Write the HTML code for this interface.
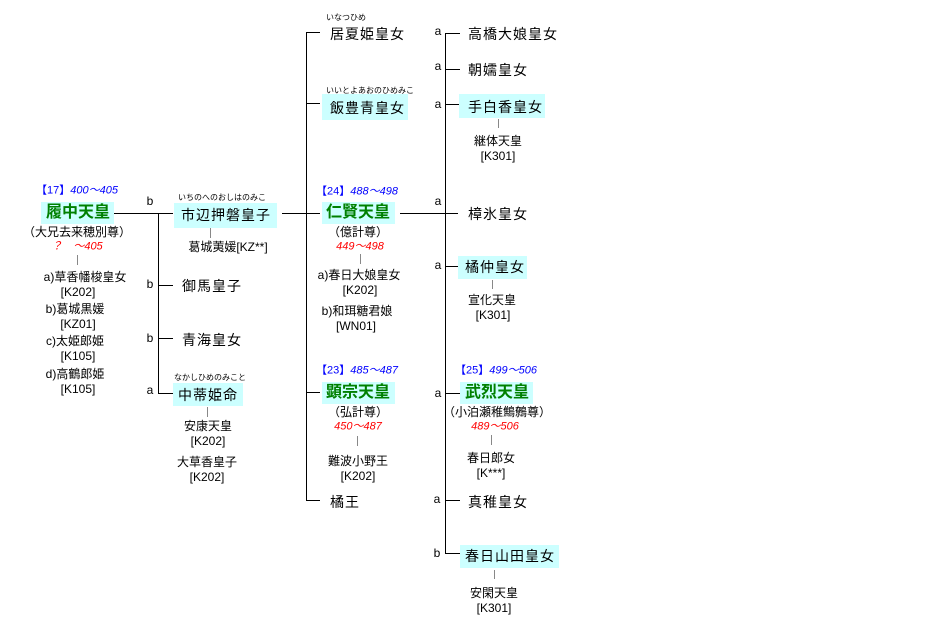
<!DOCTYPE html>
<html><head><meta charset="utf-8"><style>
body{margin:0;width:949px;height:634px;background:#fff;position:relative;overflow:hidden;font-family:"Liberation Sans","Noto Sans CJK JP",sans-serif;color:#000}
.t{position:absolute;white-space:nowrap;transform:translate(-50%,-50%);line-height:1}
.l{position:absolute;white-space:nowrap;transform:translateY(-50%);line-height:1}
.s{font-size:12px}
.m{font-size:14px;letter-spacing:1px}
.r{font-size:8px}
.box{position:absolute;background:#ccffff}
.g{color:#008000;font-weight:bold;font-size:16px}
.b{color:#0000ff;font-size:11px}
.bi{font-style:italic}
.red{color:#ff0000;font-style:italic;font-size:11px}
.h{position:absolute;height:1px;background:#000}
.v{position:absolute;width:1px;background:#000}
.gv{position:absolute;width:1px;background:#888}
</style></head><body>
<div class="h" style="left:114px;top:213px;width:44px"></div>
<div class="v" style="left:158px;top:213px;height:181px"></div>
<div class="h" style="left:158px;top:213px;width:15px"></div>
<div class="h" style="left:158px;top:285px;width:15px"></div>
<div class="h" style="left:158px;top:338px;width:15px"></div>
<div class="h" style="left:158px;top:393px;width:15px"></div>
<div class="h" style="left:282px;top:213px;width:38px"></div>
<div class="v" style="left:306px;top:32px;height:469px"></div>
<div class="h" style="left:306px;top:32px;width:14px"></div>
<div class="h" style="left:306px;top:103px;width:14px"></div>
<div class="h" style="left:306px;top:392px;width:14px"></div>
<div class="h" style="left:306px;top:500px;width:14px"></div>
<div class="h" style="left:400px;top:213px;width:58px"></div>
<div class="v" style="left:445px;top:33px;height:521px"></div>
<div class="h" style="left:445px;top:33px;width:15px"></div>
<div class="h" style="left:445px;top:69px;width:15px"></div>
<div class="h" style="left:445px;top:104px;width:15px"></div>
<div class="h" style="left:445px;top:266px;width:15px"></div>
<div class="h" style="left:445px;top:393px;width:15px"></div>
<div class="h" style="left:445px;top:500px;width:15px"></div>
<div class="h" style="left:445px;top:553px;width:15px"></div>
<div class="gv" style="left:77px;top:255px;height:10px"></div>
<div class="gv" style="left:210px;top:228px;height:10px"></div>
<div class="gv" style="left:207px;top:407px;height:10px"></div>
<div class="gv" style="left:360px;top:254px;height:10px"></div>
<div class="gv" style="left:357px;top:436px;height:10px"></div>
<div class="gv" style="left:498px;top:119px;height:9px"></div>
<div class="gv" style="left:492px;top:280px;height:9px"></div>
<div class="gv" style="left:491px;top:435px;height:10px"></div>
<div class="gv" style="left:494px;top:570px;height:9px"></div>
<div class="box" style="left:41px;top:202px;width:73px;height:22px"></div>
<div class="box" style="left:174px;top:203px;width:103px;height:25px"></div>
<div class="box" style="left:173px;top:383px;width:70px;height:23px"></div>
<div class="box" style="left:322px;top:94px;width:86px;height:26px"></div>
<div class="box" style="left:322px;top:202px;width:73px;height:22px"></div>
<div class="box" style="left:322px;top:382px;width:73px;height:22px"></div>
<div class="box" style="left:459px;top:94px;width:86px;height:24px"></div>
<div class="box" style="left:458px;top:256px;width:69px;height:23px"></div>
<div class="box" style="left:460px;top:382px;width:73px;height:22px"></div>
<div class="box" style="left:460px;top:545px;width:99px;height:23px"></div>
<div class="l b" style="left:36px;top:191px">【17】<span class="bi">400～405</span></div>
<div class="t g" style="left:78px;top:213px">履中天皇</div>
<div class="t s" style="left:77px;top:232px">（大兄去来穂別尊）</div>
<div class="t red" style="left:77px;top:247px">？　～405</div>
<div class="t s" style="left:85px;top:277px">a)草香幡梭皇女</div>
<div class="t s" style="left:78px;top:292px">[K202]</div>
<div class="t s" style="left:75px;top:309px">b)葛城黒媛</div>
<div class="t s" style="left:78px;top:324px">[KZ01]</div>
<div class="t s" style="left:75px;top:341px">c)太姫郎姫</div>
<div class="t s" style="left:78px;top:356px">[K105]</div>
<div class="t s" style="left:75px;top:374px">d)高鶴郎姫</div>
<div class="t s" style="left:78px;top:389px">[K105]</div>
<div class="t s" style="left:150px;top:201px">b</div>
<div class="t s" style="left:150px;top:284px">b</div>
<div class="t s" style="left:150px;top:338px">b</div>
<div class="t s" style="left:150px;top:390px">a</div>
<div class="t r" style="left:222px;top:198px">いちのへのおしはのみこ</div>
<div class="t m" style="left:226px;top:215px">市辺押磐皇子</div>
<div class="t s" style="left:228px;top:247px">葛城荑媛[KZ**]</div>
<div class="l m" style="left:182px;top:286px">御馬皇子</div>
<div class="l m" style="left:182px;top:340px">青海皇女</div>
<div class="t r" style="left:210px;top:378px">なかしひめのみこと</div>
<div class="t m" style="left:208px;top:395px">中蒂姫命</div>
<div class="t s" style="left:208px;top:426px">安康天皇</div>
<div class="t s" style="left:208px;top:441px">[K202]</div>
<div class="t s" style="left:207px;top:462px">大草香皇子</div>
<div class="t s" style="left:207px;top:477px">[K202]</div>
<div class="l r" style="left:326px;top:18px">いなつひめ</div>
<div class="l m" style="left:330px;top:34px">居夏姫皇女</div>
<div class="l r" style="left:326px;top:91px">いいとよあおのひめみこ</div>
<div class="l m" style="left:330px;top:108px">飯豊青皇女</div>
<div class="l b" style="left:316px;top:192px">【24】<span class="bi">488～498</span></div>
<div class="t g" style="left:358px;top:213px">仁賢天皇</div>
<div class="t s" style="left:358px;top:232px">（億計尊）</div>
<div class="t red" style="left:360px;top:247px">449～498</div>
<div class="t s" style="left:359px;top:275px">a)春日大娘皇女</div>
<div class="t s" style="left:360px;top:290px">[K202]</div>
<div class="t s" style="left:357px;top:311px">b)和珥糖君娘</div>
<div class="t s" style="left:356px;top:326px">[WN01]</div>
<div class="l b" style="left:316px;top:371px">【23】<span class="bi">485～487</span></div>
<div class="t g" style="left:358px;top:393px">顕宗天皇</div>
<div class="t s" style="left:358px;top:412px">（弘計尊）</div>
<div class="t red" style="left:358px;top:427px">450～487</div>
<div class="t s" style="left:358px;top:461px">難波小野王</div>
<div class="t s" style="left:358px;top:476px">[K202]</div>
<div class="l m" style="left:330px;top:502px">橘王</div>
<div class="t s" style="left:438px;top:31px">a</div>
<div class="t s" style="left:438px;top:66px">a</div>
<div class="t s" style="left:438px;top:104px">a</div>
<div class="t s" style="left:438px;top:201px">a</div>
<div class="t s" style="left:438px;top:265px">a</div>
<div class="t s" style="left:438px;top:393px">a</div>
<div class="t s" style="left:437px;top:499px">a</div>
<div class="t s" style="left:437px;top:553px">b</div>
<div class="l m" style="left:468px;top:34px">高橋大娘皇女</div>
<div class="l m" style="left:468px;top:70px">朝嬬皇女</div>
<div class="l m" style="left:468px;top:107px">手白香皇女</div>
<div class="t s" style="left:498px;top:141px">継体天皇</div>
<div class="t s" style="left:498px;top:156px">[K301]</div>
<div class="l m" style="left:468px;top:214px">樟氷皇女</div>
<div class="l m" style="left:465px;top:267px">橘仲皇女</div>
<div class="t s" style="left:492px;top:300px">宣化天皇</div>
<div class="t s" style="left:493px;top:315px">[K301]</div>
<div class="l b" style="left:455px;top:371px">【25】<span class="bi">499～506</span></div>
<div class="t g" style="left:497px;top:393px">武烈天皇</div>
<div class="t s" style="left:497px;top:412px">（小泊瀬稚鷦鷯尊）</div>
<div class="t red" style="left:495px;top:427px">489～506</div>
<div class="t s" style="left:491px;top:458px">春日郎女</div>
<div class="t s" style="left:491px;top:473px">[K***]</div>
<div class="l m" style="left:468px;top:502px">真稚皇女</div>
<div class="t m" style="left:510px;top:556px">春日山田皇女</div>
<div class="t s" style="left:494px;top:593px">安閑天皇</div>
<div class="t s" style="left:494px;top:608px">[K301]</div>
</body></html>
